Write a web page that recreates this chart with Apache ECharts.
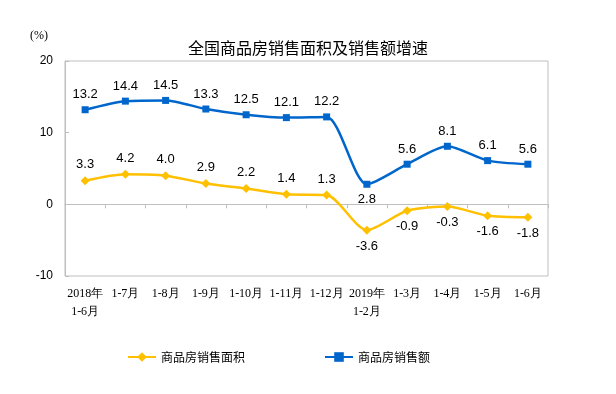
<!DOCTYPE html>
<html><head><meta charset="utf-8">
<script src="https://cdn.jsdelivr.net/npm/echarts@6/dist/echarts.min.js"></script>
<style>html,body{margin:0;padding:0;background:#fff}#c{width:616px;height:394px}</style>
</head><body><div id="c"></div>
<script>
var categories = ['2018年\n1-6月','1-7月','1-8月','1-9月','1-10月','1-11月','1-12月','2019年\n1-2月','1-3月','1-4月','1-5月','1-6月'];
var areaGrowth = [3.3, 4.2, 4.0, 2.9, 2.2, 1.4, 1.3, -3.6, -0.9, -0.3, -1.6, -1.8];
var salesGrowth = [13.2, 14.4, 14.5, 13.3, 12.5, 12.1, 12.2, 2.8, 5.6, 8.1, 6.1, 5.6];
var yTicks = {min: -10, max: 20, interval: 10};
var titleText = '全国商品房销售面积及销售额增速';
var seriesNames = ['商品房销售面积', '商品房销售额'];

var chart = echarts.init(document.getElementById('c'));
var labelFont = {fontFamily: 'Liberation Sans, Arial', fontSize: 13, color: '#000'};
chart.setOption({
  animation: false,
  title: {text: titleText, left: 'center', top: 35, textStyle: {fontFamily: 'Noto Sans CJK SC', fontSize: 16, fontWeight: 'normal', color: '#000'}},
  graphic: [{type: 'text', left: 30, top: 30, style: {text: '(%)', font: '12px "Liberation Serif"', fill: '#000'}}],
  grid: {left: 65, right: 68, top: 61, bottom: 118, show: true, borderColor: '#bfbfbf', borderWidth: 1},
  legend: {left: 127, top: 351, padding: 0, itemGap: 79, itemWidth: 28, itemHeight: 12,
    textStyle: {fontFamily: 'Noto Sans CJK SC', fontSize: 12, color: '#000'},
    data: seriesNames},
  xAxis: [{
    type: 'category', data: categories, boundaryGap: true, position: 'bottom',
    axisLine: {show: false, onZero: false}, axisTick: {show: false},
    axisLabel: {interval: 0, margin: 9, fontFamily: 'Liberation Serif', fontSize: 12, color: '#000', lineHeight: 18}
  }, {
    type: 'category', data: categories, boundaryGap: true,
    axisLine: {show: true, onZero: true, lineStyle: {color: '#bfbfbf'}},
    axisTick: {show: true, inside: true, length: 4, interval: 0, lineStyle: {color: '#bfbfbf'}},
    axisLabel: {show: false}
  }],
  yAxis: {
    type: 'value', min: yTicks.min, max: yTicks.max, interval: yTicks.interval,
    axisLine: {show: true, lineStyle: {color: '#bfbfbf'}},
    axisTick: {show: true, inside: true, length: 4, lineStyle: {color: '#bfbfbf'}},
    splitLine: {show: false},
    axisLabel: {fontFamily: 'Liberation Sans, Arial', fontSize: 12, color: '#000', margin: 12}
  },
  series: [{
    name: seriesNames[0], type: 'line', smooth: 0.25,
    symbol: 'diamond', symbolSize: 9, itemStyle: {color: '#FFC000'}, lineStyle: {width: 2.5, color: '#FFC000'},
    label: {show: true, position: 'top', distance: 5, ...labelFont,
      formatter: function(p){return p.value.toFixed(1);}},
    data: areaGrowth.map(function(v){return {value: v, label: {position: v < 0 ? 'bottom' : 'top'}};})
  }, {
    name: seriesNames[1], type: 'line', smooth: 0.25,
    symbol: 'rect', symbolSize: 7, itemStyle: {color: '#0066CC'}, lineStyle: {width: 2.5, color: '#0066CC'},
    label: {show: true, position: 'top', distance: 5, ...labelFont,
      formatter: function(p){return p.value.toFixed(1);}},
    data: salesGrowth.map(function(v, i){return {value: v, label: {position: i === 7 ? 'bottom' : 'top'}};})
  }]
});
</script></body></html>
